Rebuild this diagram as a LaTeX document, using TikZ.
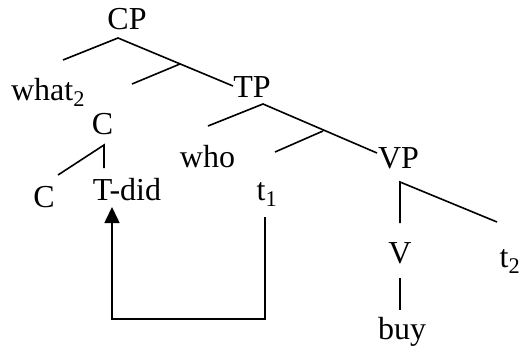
\documentclass[tikz,border=0pt]{standalone}
\usepackage{fontspec}
\setmainfont{Liberation Serif}
\usetikzlibrary{arrows.meta}
\begin{document}
\begin{tikzpicture}[x=1pt,y=-1pt,
  lbl/.style={anchor=base,inner sep=0pt,font=\fontsize{32}{38}\selectfont},
  branch/.style={line width=1.6pt},
  movement/.style={line width=1.6pt,-{Triangle[width=15pt,length=16pt]}}]
\useasboundingbox (0,0) rectangle (522,353);

% labels
\node[lbl] (CP)   at (127,30)  {CP};
\node[lbl] (what) at (48,100)  {what\textsubscript{2}};
\node[lbl] (TP)   at (252,97)  {TP};
\node[lbl] (Cbar) at (102.5,134) {C};
\node[lbl] (who)  at (207.5,167) {who};
\node[lbl] (VP)   at (398.5,168) {VP};
\node[lbl] (C)    at (44,207)  {C};
\node[lbl] (Tdid) at (127,200) {T-did};
\node[lbl] (t1)   at (267,200) {t\textsubscript{1}};
\node[lbl] (V)    at (400,263) {V};
\node[lbl] (t2)   at (510,267) {t\textsubscript{2}};
\node[lbl] (buy)  at (402,339) {buy};

% branching points and branch ends
\coordinate (cpTop)  at (118,38);
\coordinate (cpL)    at (63,60);
\coordinate (cpR)    at (233,86);
\coordinate (cbarJ)  at (180,64);
\coordinate (cbarE)  at (132,84);
\coordinate (tpTop)  at (263,104);
\coordinate (tpL)    at (208,126);
\coordinate (tpR)    at (377,153);
\coordinate (tbarJ)  at (323,131);
\coordinate (tbarE)  at (275,152);
\coordinate (cTop)   at (104,145);
\coordinate (cV)     at (104,168);
\coordinate (cL)     at (58,175);
\coordinate (vpTop)  at (400,182);
\coordinate (vpV)    at (400,223);
\coordinate (vpR)    at (497,222);
\coordinate (vTop)   at (400,278);
\coordinate (vBot)   at (400,310);
\coordinate (mvStart) at (265,217);
\coordinate (mvR)    at (265,319);
\coordinate (mvL)    at (112,319);
\coordinate (mvEnd)  at (112,207);

% tree branches
\draw[branch] (cpL) -- (cpTop) -- (cpR);
\draw[branch] (cbarJ) -- (cbarE);
\draw[branch] (tpL) -- (tpTop) -- (tpR);
\draw[branch] (tbarJ) -- (tbarE);
\draw[branch] (cL) -- (cTop) -- (cV);
\draw[branch] (vpV) -- (vpTop) -- (vpR);
\draw[branch] (vTop) -- (vBot);

% head movement of T to C
\draw[movement] (mvStart) -- (mvR) -- (mvL) -- (mvEnd);
\end{tikzpicture}
\end{document}
